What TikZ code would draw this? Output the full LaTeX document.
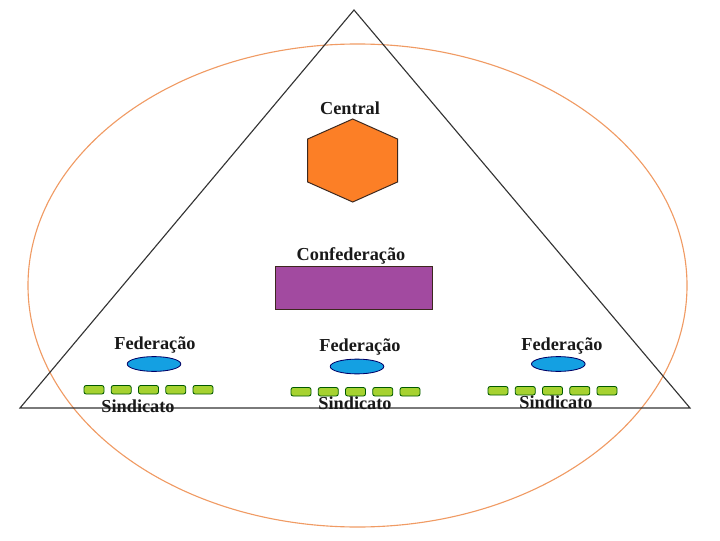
\documentclass[tikz,border=0pt]{standalone}
\usepackage{fontspec}
\setmainfont{Liberation Serif}
\usepackage{tikz}
\usetikzlibrary{positioning}
\usepackage{xcolor}
\definecolor{ringcol}{RGB}{240,155,100}
\definecolor{centralcol}{RGB}{252,127,38}
\definecolor{confcol}{RGB}{162,74,160}
\definecolor{fedcol}{RGB}{20,160,226}
\definecolor{sindcol}{RGB}{166,210,48}
\definecolor{edgecol}{RGB}{60,40,30}

\begin{document}
\begin{tikzpicture}[x=0.025cm,y=0.025cm,
    lbl/.style={font=\fontsize{13}{15}\selectfont\bfseries, text=black!90, inner sep=0pt},
    sindbox/.style={fill=sindcol, draw=black!65!green, line width=0.6pt, rounded corners=1.5pt}]
  \useasboundingbox (0,0) rectangle (720,540);
  % outer ring and triangle
  \draw[ringcol, line width=0.8pt] (357.5,254.5) ellipse (329.5 and 241.5);
  \draw[black!80, line width=0.8pt] (20,132) -- (354,530) -- (690,132) -- cycle;
  % central
  \filldraw[fill=centralcol, draw=edgecol, line width=0.7pt]
    (352.7,421) -- (397.5,401) -- (397.5,358) -- (352.7,338) -- (307.7,358) -- (307.7,401) -- cycle;
  \node[lbl] (central) at (350,432) {Central};
  % confederacao
  \filldraw[fill=confcol, draw=edgecol, line width=0.7pt] (275,231) rectangle (432,274);
  \node[lbl] (conf) at (351,284) {Confederação};
  % federacoes e sindicatos
  \foreach \fx/\fy/\ex/\ey/\rx/\ry/\sx/\sy/\n in {155/195/154/176/84/146/138/134/a,
      360/193/357/173.5/291/144/355/137/b, 562/194/558.3/176/488/145/556/138/c}{
    \node[lbl] (fed\n) at (\fx,\fy) {Federação};
    \filldraw[fill=fedcol, draw=black!60!blue, line width=0.6pt] (\ex,\ey) ellipse (26.8 and 7.4);
    \foreach \i in {0,...,4}{
      \draw[sindbox] (\rx+\i*27.25,\ry) rectangle ++(20,8.5);
    }
    \node[lbl] (sind\n) at (\sx,\sy) {Sindicato};
  }
\end{tikzpicture}
\end{document}
